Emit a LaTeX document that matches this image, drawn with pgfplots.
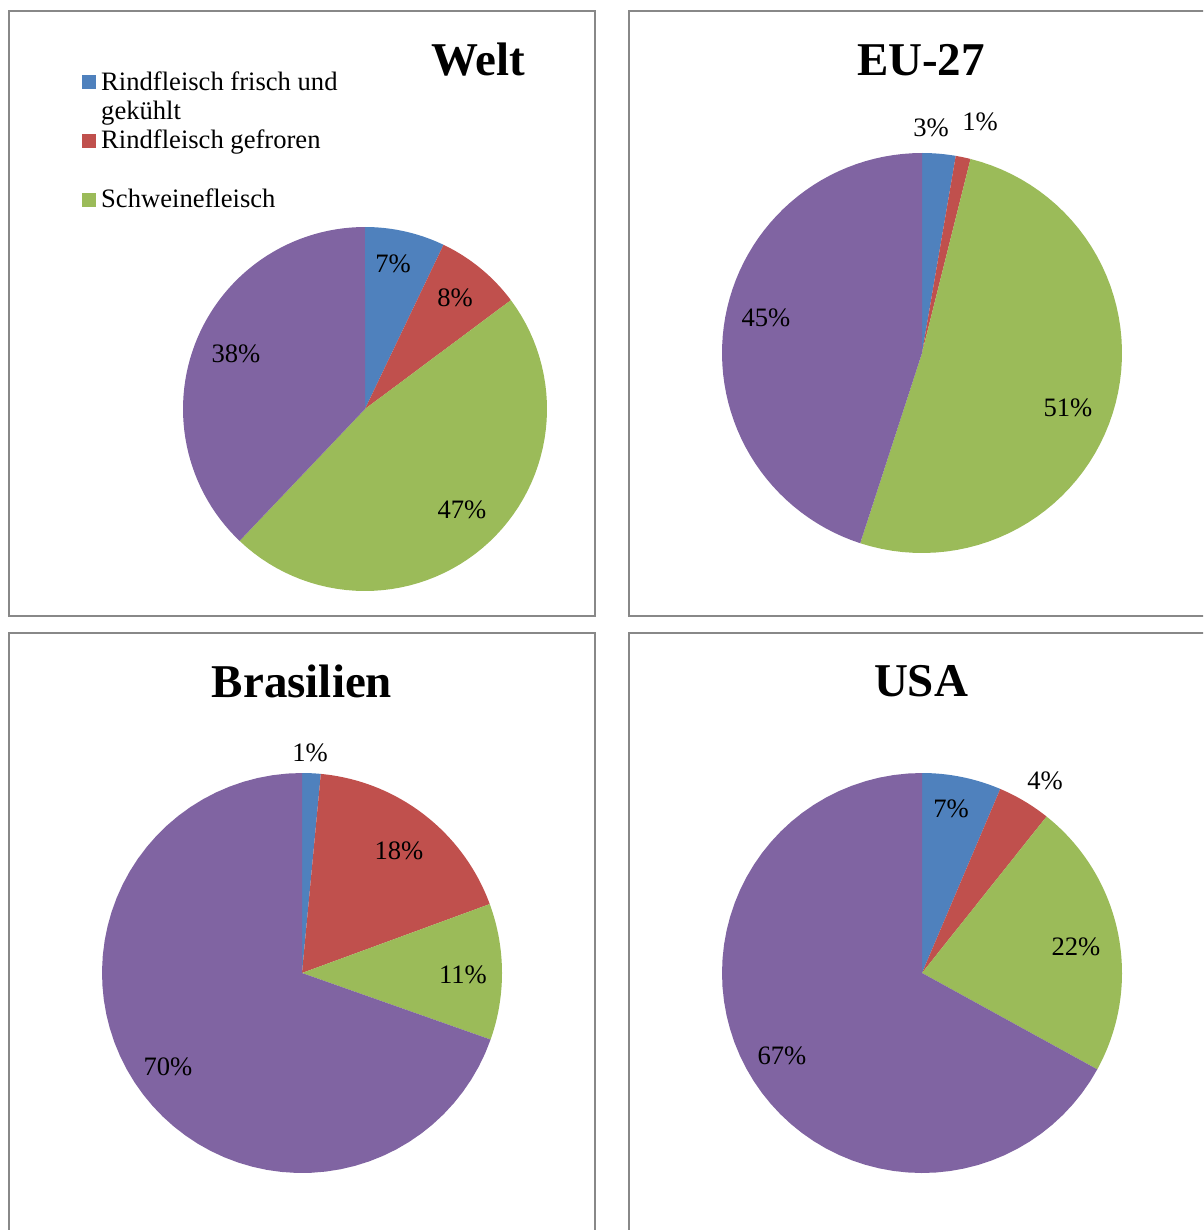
\documentclass[border=0pt]{standalone}
\usepackage{pgfplots}
\pgfplotsset{compat=1.18}
\usepackage{fontspec}
\setmainfont{Liberation Serif}
\definecolor{cBlue}{HTML}{4F81BD}
\definecolor{cRed}{HTML}{C0504D}
\definecolor{cGreen}{HTML}{9BBB59}
\definecolor{cPurple}{HTML}{8064A2}
\definecolor{cBorder}{HTML}{888888}
% slice: color, cx, cy, r, start%, end%
\newcommand{\slice}[6]{%
  \addplot[fill=#1, draw=none, domain=#5:#6, samples=60, variable=\t]
    ({#2 + #4*sin(3.6*\t)}, {#3 - #4*cos(3.6*\t)}) -- (axis cs:#2,#3) -- cycle;
}
\newcommand{\lbl}{\fontsize{26.6}{30}\selectfont}
\newcommand{\ttl}{\fontsize{47}{52}\selectfont\bfseries}
\begin{document}
\begin{tikzpicture}
\useasboundingbox (0,0) rectangle (1203pt,1230pt);
\begin{axis}[
  at={(0,0)}, anchor=south west,
  width=1203pt, height=1230pt, scale only axis,
  xmin=0, xmax=1203, ymin=0, ymax=1230, y dir=reverse,
  hide axis,
]
% panel borders
\draw[cBorder, line width=1.6pt] (axis cs:9,11) rectangle (axis cs:595,616);
\draw[cBorder, line width=1.6pt] (axis cs:629,11) rectangle (axis cs:1215,616);
\draw[cBorder, line width=1.6pt] (axis cs:9,633) rectangle (axis cs:595,1245);
\draw[cBorder, line width=1.6pt] (axis cs:629,633) rectangle (axis cs:1215,1245);

% Welt: 7.1, 7.7, 47.3, 37.9
\slice{cBlue}{365}{409}{182}{0}{7.1}
\slice{cRed}{365}{409}{182}{7.1}{14.8}
\slice{cGreen}{365}{409}{182}{14.8}{62.1}
\slice{cPurple}{365}{409}{182}{62.1}{100}

% EU-27: 2.7, 1.2, 51.1, 45.0
\slice{cBlue}{922}{353}{200}{0}{2.7}
\slice{cRed}{922}{353}{200}{2.7}{3.9}
\slice{cGreen}{922}{353}{200}{3.9}{55.0}
\slice{cPurple}{922}{353}{200}{55.0}{100}

% Brasilien: 1.5, 17.9, 11.0, 69.6
\slice{cBlue}{302}{973}{200}{0}{1.5}
\slice{cRed}{302}{973}{200}{1.5}{19.4}
\slice{cGreen}{302}{973}{200}{19.4}{30.4}
\slice{cPurple}{302}{973}{200}{30.4}{100}

% USA: 6.4, 4.3, 22.3, 67.0
\slice{cBlue}{922}{973}{200}{0}{6.4}
\slice{cRed}{922}{973}{200}{6.4}{10.7}
\slice{cGreen}{922}{973}{200}{10.7}{33.0}
\slice{cPurple}{922}{973}{200}{33.0}{100}

% titles
\node[font=\ttl] at (axis cs:478,60) {Welt};
\node[font=\ttl] at (axis cs:921,60) {EU-27};
\node[font=\ttl] at (axis cs:302,681) {Brasilien};
\node[font=\ttl] at (axis cs:921,681) {USA};

% data labels
\node[font=\lbl] at (axis cs:393,264) {7\%};
\node[font=\lbl] at (axis cs:455,298) {8\%};
\node[font=\lbl] at (axis cs:462,510) {47\%};
\node[font=\lbl] at (axis cs:236,354) {38\%};

\node[font=\lbl] at (axis cs:931,128) {3\%};
\node[font=\lbl] at (axis cs:980,122) {1\%};
\node[font=\lbl] at (axis cs:1068,408) {51\%};
\node[font=\lbl] at (axis cs:766,318) {45\%};

\node[font=\lbl] at (axis cs:310,753) {1\%};
\node[font=\lbl] at (axis cs:399,851) {18\%};
\node[font=\lbl] at (axis cs:463,975) {11\%};
\node[font=\lbl] at (axis cs:168,1067) {70\%};

\node[font=\lbl] at (axis cs:951,809) {7\%};
\node[font=\lbl] at (axis cs:1045,781) {4\%};
\node[font=\lbl] at (axis cs:1076,947) {22\%};
\node[font=\lbl] at (axis cs:782,1056) {67\%};

% legend
\fill[cBlue] (axis cs:82,75) rectangle (axis cs:96,89);
\fill[cRed] (axis cs:82,134) rectangle (axis cs:96,148);
\fill[cGreen] (axis cs:82,193) rectangle (axis cs:96,207);
\node[font=\lbl, anchor=base west, inner sep=0pt] at (axis cs:101,91) {Rindfleisch frisch und};
\node[font=\lbl, anchor=base west, inner sep=0pt] at (axis cs:101,120) {gekühlt};
\node[font=\lbl, anchor=base west, inner sep=0pt] at (axis cs:101,149) {Rindfleisch gefroren};
\node[font=\lbl, anchor=base west, inner sep=0pt] at (axis cs:101,208) {Schweinefleisch};
\end{axis}
\end{tikzpicture}
\end{document}
